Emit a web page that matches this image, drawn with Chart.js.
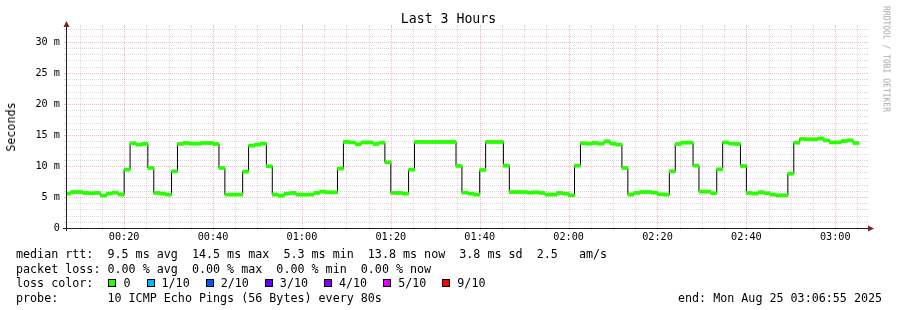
<!DOCTYPE html>
<html>
<head>
<meta charset="utf-8">
<script src="https://cdn.jsdelivr.net/npm/chart.js@4.4.1/dist/chart.umd.min.js"></script>
<style>
  body { margin: 0; background: #fff; }
  #wrap { position: relative; width: 897px; height: 310px; overflow: hidden; background: #fff; }
  canvas { position: absolute; left: 0; top: 0; }
  .txt { position: absolute; font-family: 'DejaVu Sans Mono', monospace; color: #000; white-space: pre; }
  .box { display: inline-block; width: 6px; height: 6px; border: 1px solid #000; vertical-align: baseline; margin-left: 16px; margin-right: 7px; }
</style>
</head>
<body>
<div id="wrap">
  <canvas id="c" width="897" height="310"></canvas>
  <div class="txt" id="title" style="left:0;width:897px;text-align:center;top:11px;font-size:13.2px;line-height:16px;">Last 3 Hours</div>
  <div class="txt" id="ylab" style="left:11px;top:127px;font-size:11.7px;line-height:14px;transform:translate(-50%,-50%) rotate(-90deg);">Seconds</div>
  <div class="txt" id="wm" style="left:886px;top:59px;font-size:8px;line-height:9px;color:#a8a8a8;transform:translate(-50%,-50%) rotate(90deg);">RRDTOOL / TOBI OETIKER</div>
  <div class="txt" id="legend" style="left:16px;top:247px;font-size:11.7px;line-height:14.55px;"></div>
  <div class="txt" id="endlab" style="left:678px;top:290.65px;font-size:11.7px;line-height:14.55px;"></div>
</div>
<script>
// ---- data (80 s bins, first bin starts at 00:06:40) ----
const firstBinStartSec = 400;   // 00:06:40
const binSeconds = 80;
const axisStartSec = 415;       // 00:06:55
const axisEndSec = 11215;       // 03:06:55

// median rtt in milliseconds per bin
const medianMs = [
  5.55, 5.8, 5.8, 5.65, 5.6, 5.65, 5.23, 5.55, 5.7, 5.38,
  9.41, 13.66, 13.44, 13.55, 9.68, 5.65, 5.55, 5.38, 9.14, 13.55,
  13.7, 13.6, 13.6, 13.7, 13.7, 13.55, 9.68, 5.38, 5.38, 5.38,
  9.09, 13.28, 13.44, 13.6, 9.95, 5.38, 5.22, 5.54, 5.65, 5.38,
  5.38, 5.38, 5.65, 5.86, 5.75, 5.75, 9.57, 13.87, 13.8, 13.5,
  13.8, 13.8, 13.55, 13.76, 10.6, 5.65, 5.65, 5.54, 9.4, 13.87,
  13.87, 13.87, 13.87, 13.87, 13.87, 13.87, 10.0, 5.7, 5.54, 5.38,
  9.35, 13.87, 13.87, 13.87, 10.05, 5.8, 5.8, 5.8, 5.7, 5.75,
  5.65, 5.38, 5.38, 5.65, 5.54, 5.27, 10.05, 13.66, 13.6, 13.7,
  13.6, 13.98, 13.6, 13.44, 9.68, 5.38, 5.65, 5.8, 5.8, 5.7,
  5.43, 5.38, 9.14, 13.55, 13.76, 13.76, 10.05, 5.86, 5.86, 5.6,
  9.46, 13.8, 13.6, 13.55, 10.0, 5.65, 5.54, 5.75, 5.6, 5.38,
  5.27, 5.27, 8.76, 13.76, 14.35, 14.3, 14.3, 14.4, 14.13, 13.8,
  13.8, 14.0, 14.13, 13.7
];
const bandHalfMs = 0.25;

const xTickLabels = ['00:20', '00:40', '01:00', '01:20', '01:40', '02:00', '02:20', '02:40', '03:00'];
const yTickValues = [0, 5, 10, 15, 20, 25, 30];
const yTickLabels = ['0', '5 m', '10 m', '15 m', '20 m', '25 m', '30 m'];
const yMax = 32.4;

const legendLines = [
  'median rtt:  9.5 ms avg  14.5 ms max  5.3 ms min  13.8 ms now  3.8 ms sd  2.5   am/s',
  'packet loss: 0.00 % avg  0.00 % max  0.00 % min  0.00 % now'
];
const lossLabels = ['0', '1/10', '2/10', '3/10', '4/10', '5/10', '9/10'];
const lossColors = ['#26ff00', '#00b8ff', '#0059ff', '#5e00ff', '#7e00ff', '#dd00ff', '#ff0000'];
const probeLine = 'probe:       10 ICMP Echo Pings (56 Bytes) every 80s';
const endLine = 'end: Mon Aug 25 03:06:55 2025';

// ---- legend ----
(function () {
  const lg = document.getElementById('legend');
  let html = legendLines.join('\n') + '\n' + 'loss color:  ';
  lossLabels.forEach((l, i) => {
    html += '<span class="box" style="background:' + lossColors[i] + (i === 0 ? ';margin-left:1px' : '') + '"></span>' + l;
  });
  html += '\n' + probeLine;
  lg.innerHTML = html;
  document.getElementById('endlab').textContent = endLine;
})();

const xTickSeconds = xTickLabels.map(s => { const p = s.split(':'); return (+p[0]) * 3600 + (+p[1]) * 60; });

const bandData = medianMs.map((v, i) => ({ x: firstBinStartSec + binSeconds * i + binSeconds / 2, y: [v - bandHalfMs, v + bandHalfMs] }));
const lineData = medianMs.map((v, i) => ({ x: firstBinStartSec + binSeconds * i, y: v }));
lineData.push({ x: firstBinStartSec + binSeconds * medianMs.length, y: medianMs[medianMs.length - 1] });

const GRID = 'rgba(143,143,143,0.32)';
const MGRID = 'rgba(222,79,79,0.38)';
const AXIS = '#1f1f1f';
const ARROW = '#7f1f1f';

const gridPlugin = {
  id: 'rrdgrid',
  beforeDatasetsDraw(chart) {
    const { ctx, chartArea: a, scales: { x, y } } = chart;
    const X0 = a.left, X1 = a.right, Y0 = a.bottom, Y1 = a.top;
    ctx.save();
    ctx.lineWidth = 1;
    const seg = (x1, y1, x2, y2) => { ctx.beginPath(); ctx.moveTo(x1, y1); ctx.lineTo(x2, y2); ctx.stroke(); };
    const hline = (py, col) => {
      const yy = Math.round(py) + 0.5;
      ctx.strokeStyle = col;
      ctx.setLineDash([]);
      seg(X0 - 2, yy, X0, yy); seg(X1, yy, X1 + 2, yy);
      ctx.setLineDash([1, 1]);
      seg(X0, yy, X1, yy);
    };
    const vline = (px, col) => {
      const xx = Math.round(px) + 0.5;
      ctx.strokeStyle = col;
      ctx.setLineDash([]);
      seg(xx, Y0, xx, Y0 + 2); seg(xx, Y1 - 2, xx, Y1);
      ctx.setLineDash([1, 1]);
      seg(xx, Y1, xx, Y0);
    };
    for (let v = 1; v <= y.max; v += 1) { if (v % 5 !== 0) hline(y.getPixelForValue(v), GRID); }
    for (let t = Math.ceil(x.min / 300) * 300; t <= x.max; t += 300) { if (t % 1200 !== 0) vline(x.getPixelForValue(t), GRID); }
    for (let v = 5; v <= y.max; v += 5) hline(y.getPixelForValue(v), MGRID);
    for (let t = Math.ceil(x.min / 1200) * 1200; t <= x.max; t += 1200) vline(x.getPixelForValue(t), MGRID);
    ctx.restore();
  },
  afterDatasetsDraw(chart) {
    const { ctx, chartArea: a } = chart;
    const xx = Math.round(a.left) + 0.5, yy = Math.round(a.bottom) + 0.5;
    ctx.save();
    ctx.setLineDash([]);
    ctx.lineWidth = 1;
    ctx.strokeStyle = AXIS;
    ctx.beginPath(); ctx.moveTo(a.left - 3, yy); ctx.lineTo(a.right + 3, yy); ctx.stroke();
    ctx.beginPath(); ctx.moveTo(xx, a.bottom + 3); ctx.lineTo(xx, a.top - 2); ctx.stroke();
    ctx.fillStyle = ARROW;
    ctx.beginPath(); ctx.moveTo(xx, a.top - 6); ctx.lineTo(xx - 3, a.top); ctx.lineTo(xx + 3, a.top); ctx.closePath(); ctx.fill();
    ctx.beginPath(); ctx.moveTo(a.right + 8, yy); ctx.lineTo(a.right + 2, yy - 3); ctx.lineTo(a.right + 2, yy + 3); ctx.closePath(); ctx.fill();
    ctx.restore();
  }
};

new Chart(document.getElementById('c'), {
  type: 'bar',
  data: {
    datasets: [
      { type: 'bar', data: bandData, backgroundColor: '#26ff00', borderWidth: 0, barThickness: 'flex', barPercentage: 1, categoryPercentage: 1, order: 0, clip: 0 },
      { type: 'line', data: lineData, stepped: 'before', borderColor: '#000000', borderWidth: 1, pointRadius: 0, fill: false, order: 1, clip: 0 }
    ]
  },
  options: {
    responsive: false,
    animation: false,
    events: [],
    layout: { padding: { left: 0, right: 31, top: 27, bottom: 0 } },
    plugins: { legend: { display: false }, tooltip: { enabled: false }, title: { display: false } },
    scales: {
      x: {
        type: 'linear', min: axisStartSec, max: axisEndSec, offset: false,
        grid: { display: false, drawTicks: false, offset: false }, border: { display: false },
        afterBuildTicks(s) { s.ticks = xTickSeconds.map(v => ({ value: v })); },
        afterFit(s) { s.height = 82; },
        ticks: { autoSkip: false, maxRotation: 0, minRotation: 0, padding: 3, color: '#000',
          font: { family: 'DejaVu Sans Mono', size: 10.2 },
          callback: (v, i) => xTickLabels[i] }
      },
      y: {
        type: 'linear', min: 0, max: yMax,
        grid: { display: false, drawTicks: false }, border: { display: false },
        afterBuildTicks(s) { s.ticks = yTickValues.map(v => ({ value: v })); },
        afterFit(s) { s.width = 66; },
        ticks: { autoSkip: false, padding: 6, color: '#000',
          font: { family: 'DejaVu Sans Mono', size: 10.2 },
          callback: (v, i) => yTickLabels[i] }
      }
    }
  },
  plugins: [gridPlugin]
});
</script>
</body>
</html>
